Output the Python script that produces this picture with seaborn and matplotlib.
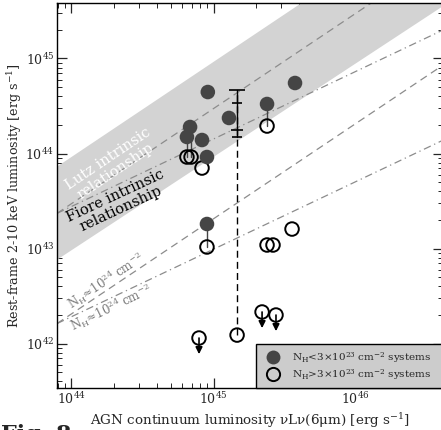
import numpy as np
import pandas as pd
import matplotlib
matplotlib.use("Agg")
import matplotlib.pyplot as plt
from matplotlib.lines import Line2D
import seaborn as sns

# log10 luminosities (x: nuLnu(6um), y: L(2-10 keV))
low_nh_lx = [44.96, 44.835, 44.813, 44.919, 44.954, 45.109, 45.377, 45.574, 44.954]
low_nh_ly = [44.647, 44.279, 44.174, 44.142, 43.963, 44.374, 44.521, 44.742, 43.258]

high_nh_lx = [44.813, 44.842, 44.919, 45.377, 44.954, 45.553, 45.377, 45.419, 45.166]
high_nh_ly = [43.963, 43.963, 43.847, 44.289, 43.016, 43.205, 43.037, 43.037, 42.089]

# upper limits (open circles with arrows)
lim_lx = [44.898, 45.342, 45.440]
lim_ly = [42.058, 42.332, 42.300]

# observed -> intrinsic connections
pair_lx = [44.954, 45.377, 44.813, 44.842]
pair_ly_obs = [43.016, 44.289, 43.963, 43.963]
pair_ly_int = [43.258, 44.521, 44.174, 44.279]

# range bar for the faint source
bar_lx = 45.166
bar_ly = [42.089, 44.668]
bar_caps = [44.668, 44.532, 44.247, 44.174]

# relations (end points in log units)
rel_lx = [43.898, 46.616]
lutz_ly = [43.37, 46.09]
band_hi = [43.87, 46.59]
band_lo = [42.89, 45.56]
fiore_ly = [43.37, 45.30]
lutz_abs_ly = [42.21, 44.93]
fiore_abs_ly = [42.21, 44.14]

sns.set_theme(style="ticks")
plt.rcParams['font.family'] = ['DejaVu Serif']
plt.rcParams['mathtext.fontset'] = 'dejavuserif'

fig = plt.figure(figsize=(4.41, 4.30), dpi=100)
ax = fig.add_axes([57 / 441, 1 - 388 / 430, 386 / 441, 385 / 430])
ax.set_xscale('log')
ax.set_yscale('log')

xr = 10 ** np.array(rel_lx)
ax.fill_between(xr, 10 ** np.array(band_lo), 10 ** np.array(band_hi), color='#d3d3d3', lw=0, zorder=1)

gray = '#8c8c8c'
ax.plot(xr, 10 ** np.array(lutz_ly), color=gray, lw=0.9, ls=(0, (6, 4)), zorder=2)
ax.plot(xr, 10 ** np.array(fiore_ly), color=gray, lw=0.9, ls=(0, (6, 3, 1, 3)), zorder=2)
ax.plot(xr, 10 ** np.array(lutz_abs_ly), color=gray, lw=0.9, ls=(0, (6, 4)), zorder=2)
ax.plot(xr, 10 ** np.array(fiore_abs_ly), color=gray, lw=0.9, ls=(0, (6, 3, 1, 3)), zorder=2)

# range bar: solid between the caps, dashed down to the observed point
ax.plot([10 ** bar_lx] * 2, 10 ** np.array(bar_ly), color='black', lw=1, ls=(0, (5, 3)), zorder=3)
ax.plot([10 ** bar_lx] * 2, [10 ** bar_caps[0], 10 ** bar_caps[-1]], color='black', lw=1, zorder=3)
for yc, w in zip(bar_caps, [11, 7, 9, 7]):
    ax.plot([10 ** bar_lx], [10 ** yc], ls='none', marker='_', ms=w, mew=1.2, color='black', zorder=3)

for x, y0, y1 in zip(pair_lx, pair_ly_obs, pair_ly_int):
    ax.plot([10 ** x] * 2, [10 ** y0, 10 ** y1], color='#444444', lw=1, zorder=3)

df_low = pd.DataFrame({'x': 10 ** np.array(low_nh_lx), 'y': 10 ** np.array(low_nh_ly)})
df_high = pd.DataFrame({'x': 10 ** np.array(high_nh_lx + lim_lx), 'y': 10 ** np.array(high_nh_ly + lim_ly)})

sns.scatterplot(data=df_high, x='x', y='y', ax=ax, s=95, facecolor='none', edgecolor='black',
                linewidth=1.4, zorder=4, legend=False)
sns.scatterplot(data=df_low, x='x', y='y', ax=ax, s=110, color='#454545', edgecolor='none',
                zorder=5, legend=False)

for x, y in zip(lim_lx, lim_ly):
    ax.annotate('', xy=(10 ** x, 10 ** (y - 0.17)), xytext=(10 ** x, 10 ** y),
                arrowprops=dict(arrowstyle='-|>', color='black', lw=1.2, mutation_scale=10,
                                shrinkA=0, shrinkB=0), zorder=6)

ax.set_xlim(10 ** 43.898, 10 ** 46.616)
ax.set_ylim(10 ** 41.532, 10 ** 45.584)

ax.text(0.142, 0.579, 'Lutz intrinsic\nrelationship', transform=ax.transAxes, color='white',
        fontsize=10.5, rotation=34, rotation_mode='anchor', ha='center', va='center',
        multialignment='center', linespacing=1.0)
ax.text(0.158, 0.483, 'Fiore intrinsic\nrelationship', transform=ax.transAxes, color='black',
        fontsize=10.5, rotation=25, rotation_mode='anchor', ha='center', va='center',
        multialignment='center', linespacing=1.0)
ax.text(0.127, 0.278, r'N$_{\rm H}$≈10$^{24}$ cm$^{-2}$', transform=ax.transAxes, color='#7a7a7a',
        fontsize=8.5, rotation=33.8, rotation_mode='anchor', ha='center', va='center')
ax.text(0.140, 0.208, r'N$_{\rm H}$≈10$^{24}$ cm$^{-2}$', transform=ax.transAxes, color='#7a7a7a',
        fontsize=8.5, rotation=25.7, rotation_mode='anchor', ha='center', va='center')

ax.set_xlabel('AGN continuum luminosity νLν(6μm) [erg s$^{-1}$]', fontsize=9.7, labelpad=3)
ax.set_ylabel('Rest-frame 2-10 keV luminosity [erg s$^{-1}$]', fontsize=9.2, labelpad=1)
ax.tick_params(which='both', direction='in', top=True, right=True, labelsize=9, pad=2)
ax.tick_params(which='major', length=7, width=0.9)
ax.tick_params(which='minor', length=3.5, width=0.7)
for sp in ax.spines.values():
    sp.set_linewidth(1)
    sp.set_color('black')

handles = [Line2D([], [], ls='none', marker='o', ms=10, color='#454545', mec='none'),
           Line2D([], [], ls='none', marker='o', ms=9.5, mfc='none', mec='black', mew=1.4)]
labels = [r'N$_{\rm H}$<3×10$^{23}$ cm$^{-2}$ systems', r'N$_{\rm H}$>3×10$^{23}$ cm$^{-2}$ systems']
leg = ax.legend(handles, labels, loc='lower left', bbox_to_anchor=(0.516, 0.0, 0.484, 0.12),
                mode='expand', borderaxespad=0, fontsize=7.5, handletextpad=0.8,
                labelspacing=0.2, borderpad=0.6, fancybox=False, framealpha=1)
leg.get_frame().set_facecolor('#cccccc')
leg.get_frame().set_edgecolor('black')
leg.get_frame().set_linewidth(1)

fig.text(0.002, 1 - 424 / 430, 'Fig. 8', fontsize=16, fontweight='bold', va='top', ha='left')

fig.savefig('out.png', dpi=100)
